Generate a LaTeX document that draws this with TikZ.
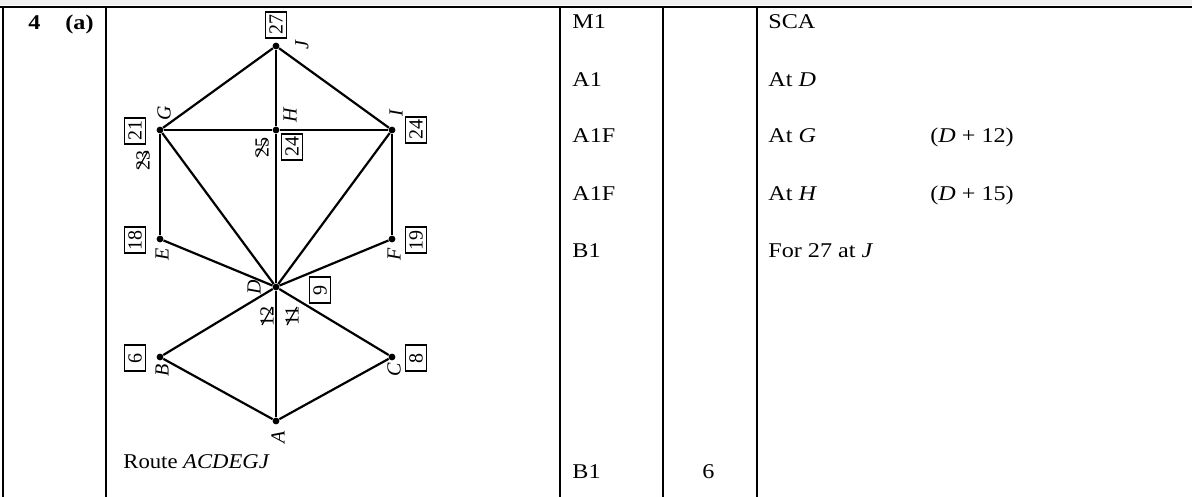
\documentclass[tikz,border=0pt]{standalone}
\usepackage{fontspec}
\setmainfont{Liberation Serif}
\newfontfamily\tabfont[FakeStretch=1.15]{Liberation Serif}
\newfontfamily\routefont[FakeStretch=1.08]{Liberation Serif}
\begin{document}
\begin{tikzpicture}[x=0.5pt,y=-0.5pt,
  rule/.style={line width=1pt},
  edge/.style={line width=1.1pt},
  vtx/.style={circle,fill=black,inner sep=0pt,minimum size=3.4pt},
  valbox/.style={draw,line width=0.75pt,rotate=90,inner sep=1.5pt,minimum width=13pt,text height=7pt,text depth=0.3pt,font=\fontsize{10}{12}\selectfont},
  vlabel/.style={rotate=90,inner sep=0pt,font=\fontsize{10}{12}\selectfont\itshape},
  oldval/.style={rotate=90,inner sep=0pt,font=\fontsize{10}{12}\selectfont},
  strike/.style={line width=0.6pt},
  txt/.style={anchor=base west,inner sep=0pt,font=\tabfont\fontsize{10.5}{12}\selectfont}]
\useasboundingbox (0,0) rectangle (1192,497);
\fill[black!6] (0,0) rectangle (1192,5);
\draw[line width=1.2pt] (0,7) -- (1192,7);
\foreach \x in {3,106,560,663,757} \draw[rule] (\x,7) -- (\x,497);
% vertices
\node[vtx] (J) at (276,46) {};
\node[vtx] (G) at (160,130) {};
\node[vtx] (H) at (276,130) {};
\node[vtx] (I) at (392,130) {};
\node[vtx] (E) at (160,239) {};
\node[vtx] (F) at (392,239) {};
\node[vtx] (D) at (276,287) {};
\node[vtx] (B) at (160,357) {};
\node[vtx] (C) at (392,357) {};
\node[vtx] (A) at (276,421) {};
% edges
\foreach \u/\v in {J/G,J/H,J/I,G/H,H/I,G/E,I/F,G/D,H/D,I/D,E/D,F/D,D/B,D/C,D/A,B/A,C/A}
  \draw[edge] (\u) -- (\v);
% value boxes
\node[valbox] (bJ) at (276,25) {27};
\node[valbox] (bG) at (135,131) {21};
\node[valbox] (bH) at (292,147) {24};
\node[valbox] (bI) at (416,130) {24};
\node[valbox] (bE) at (135,240) {18};
\node[valbox] (bF) at (416,240) {19};
\node[valbox] (bD) at (320,290) {9};
\node[valbox] (bB) at (135,358) {6};
\node[valbox] (bC) at (416,358) {8};
% vertex labels
\node[vlabel] (lJ) at (302,45) {J};
\node[vlabel] (lG) at (164,113) {G};
\node[vlabel] (lH) at (290,115) {H};
\node[vlabel] (lI) at (396,113) {I};
\node[vlabel] (lE) at (162,254) {E};
\node[vlabel] (lF) at (394,254) {F};
\node[vlabel] (lD) at (254,287) {D};
\node[vlabel] (lB) at (162,370) {B};
\node[vlabel] (lC) at (394,370) {C};
\node[vlabel] (lA) at (278,437) {A};
% crossed-out values
\node[oldval] (o23) at (143,160) {23};
\draw[strike] ([shift={(-5,9)}]o23.center) -- ([shift={(5,-9)}]o23.center);
\node[oldval] (o25) at (262,148) {25};
\draw[strike] ([shift={(-5,9)}]o25.center) -- ([shift={(5,-9)}]o25.center);
\node[oldval] (o12) at (267,316) {12};
\draw[strike] ([shift={(-5,9)}]o12.center) -- ([shift={(5,-9)}]o12.center);
\node[oldval] (o11) at (292,316) {11};
\draw[strike] ([shift={(-5,9)}]o11.center) -- ([shift={(5,-9)}]o11.center);
% texts
\node[txt] (q) at (28,30) {\textbf{4}};
\node[txt] (qa) at (65,30) {\textbf{(a)}};
\node[anchor=base west,inner sep=0pt,font=\routefont\fontsize{10.5}{12}\selectfont] (route) at (123,468) {Route \textit{ACDEGJ}};
\node[txt] (m1) at (572,29) {M1};
\node[txt] (m2) at (572,87) {A1};
\node[txt] (m3) at (572,143) {A1F};
\node[txt] (m4) at (572,200) {A1F};
\node[txt] (m5) at (572,257) {B1};
\node[txt] (m6) at (572,478) {B1};
\node[txt] (t6) at (702,478) {6};
\node[txt] (c1) at (768,29) {SCA};
\node[txt] (c2) at (768,87) {At \textit{D}};
\node[txt] (c3) at (768,143) {At \textit{G}};
\node[txt] (c4) at (768,200) {At \textit{H}};
\node[txt] (c5) at (768,257) {For 27 at \textit{J}};
\node[txt] (d1) at (930,143) {(\textit{D} + 12)};
\node[txt] (d2) at (930,200) {(\textit{D} + 15)};
\end{tikzpicture}
\end{document}
